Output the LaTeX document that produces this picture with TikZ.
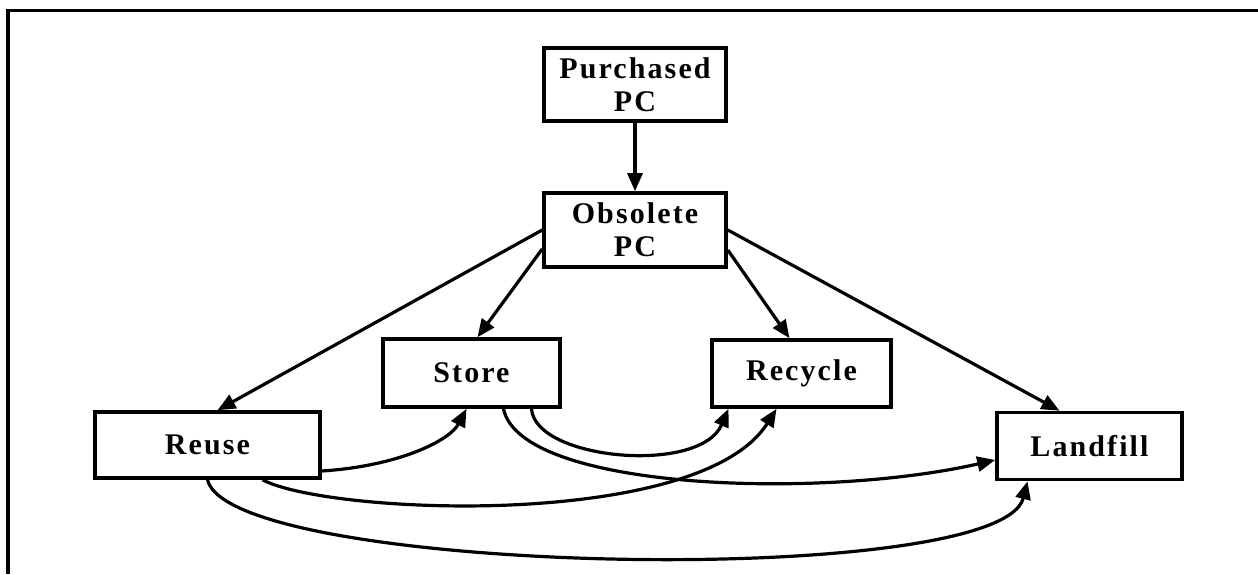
\documentclass[tikz,border=0pt]{standalone}
\usepackage{fontspec}
\setmainfont{Liberation Serif}[LetterSpace=7]
\usetikzlibrary{arrows.meta}
\begin{document}
\begin{tikzpicture}[x=1pt,y=-1pt,
  box/.style={draw, line width=3.6pt, inner sep=0pt, align=center,
    font=\bfseries\fontsize{30}{33}\selectfont},
  edge/.style={line width=3.2pt, -{Triangle[length=18pt,width=15pt]}}]
\useasboundingbox (0,0) rectangle (1258,574);
% frame
\coordinate (ftr) at (1258,10.5);
\coordinate (fc) at (8,10.5);
\coordinate (fbl) at (8,574);
\draw[line width=3.6pt] (ftr) -- (fc) -- (fbl);
% nodes
\node[box, minimum width=182pt, minimum height=73pt] (pur) at (635,84.5) {Purchased\\PC};
\node[box, minimum width=182pt, minimum height=74pt] (obs) at (635,230) {Obsolete\\PC};
\node[box, minimum width=177pt, minimum height=68pt] (store) at (471.5,373) {Store};
\node[box, minimum width=179pt, minimum height=67pt] (rec) at (801.5,373.5) {Recycle};
\node[box, minimum width=225pt, minimum height=66pt] (reuse) at (207.5,445) {Reuse};
\node[box, minimum width=185pt, minimum height=67pt] (land) at (1089.5,446) {Landfill};
% straight edges
\draw[edge] (pur) -- (obs);
\draw[edge] (obs.west) -- ([xshift=10pt]reuse.north);
\draw[edge] ([yshift=-19pt]obs.west) -- ([xshift=6pt]store.north);
\draw[edge] ([yshift=-20pt]obs.east) -- ([xshift=-12pt]rec.north);
\draw[edge] (obs.east) -- ([xshift=-30pt]land.north);
% curved edges
\draw[edge] ([yshift=-26pt]reuse.east) .. controls (400,466) and (450,440) .. ([xshift=-5pt]store.south);
\draw[edge] ([xshift=55pt]reuse.south) .. controls (330,515) and (700,530) .. ([xshift=-25pt]rec.south);
\draw[edge] (reuse.south) .. controls (230,575) and (1000,590) .. ([xshift=-62pt]land.south);
\draw[edge] ([xshift=60pt]store.south) .. controls (535,460) and (700,475) .. ([xshift=-73pt]rec.south);
\draw[edge] ([xshift=32pt]store.south) .. controls (520,490) and (820,500) .. ([yshift=-14pt]land.west);
\end{tikzpicture}
\end{document}
